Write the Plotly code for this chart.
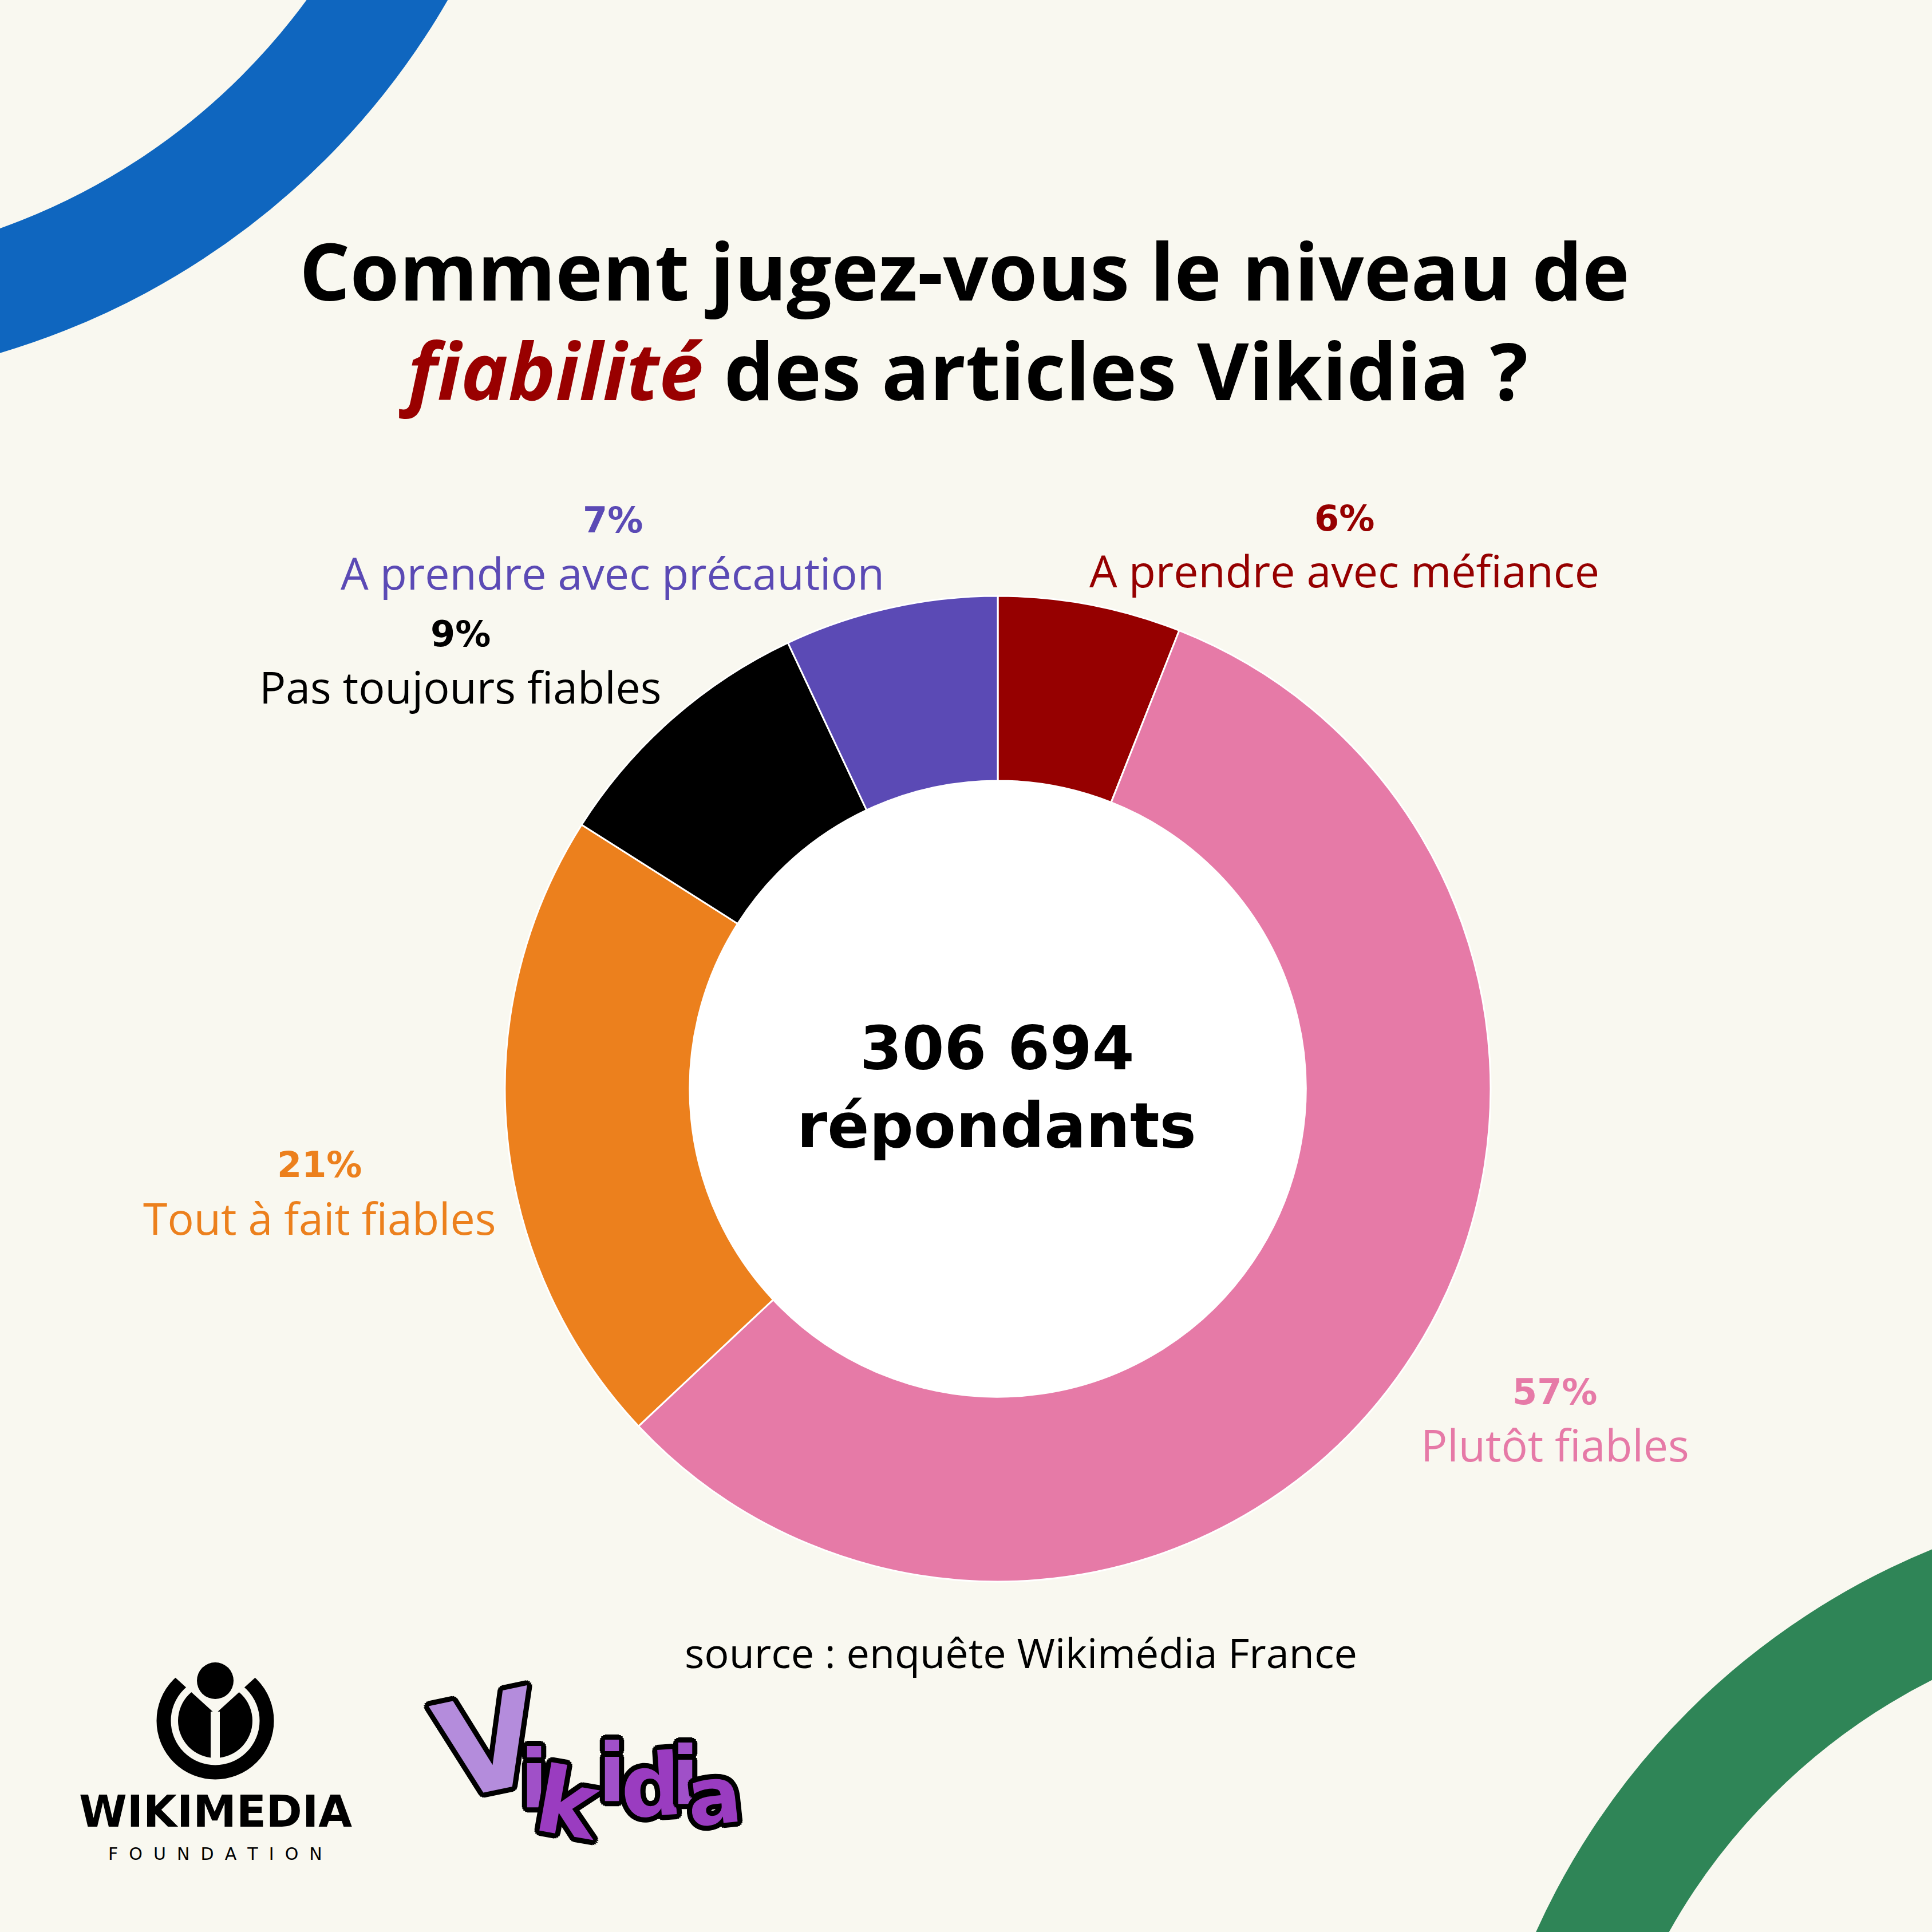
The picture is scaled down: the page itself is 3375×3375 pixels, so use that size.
import math
import plotly.graph_objects as go

W = H = 3375
BG = "#F9F8F0"
FONT = "Open Sans, sans-serif"
HEAVY = "DejaVu Sans, sans-serif"

# ---- data ----
categories = ["A prendre avec méfiance", "Plutôt fiables", "Tout à fait fiables",
              "Pas toujours fiables", "A prendre avec précaution"]
values = [6, 57, 21, 9, 7]
colors = ["#960000", "#E67AA7", "#EC801D", "#000000", "#5B4AB5"]
respondents = "306 694"
respondents_label = "répondants"
title_line1 = "Comment jugez-vous le niveau de"
title_word = "fiabilité"
title_rest = " des articles Vikidia ?"
source = "source : enquête Wikimédia France"

# label anchor positions in pixels (layout only): percent line centre
label_pos = [(2348, 905), (2716, 2431), (558, 2035), (804, 1107), (1070, 909)]


def X(px):
    return px / W


def Y(py):
    return 1 - py / H


def circle(cx, cy, r, **kw):
    return dict(type="circle", xref="paper", yref="paper",
                x0=X(cx - r), x1=X(cx + r), y0=Y(cy + r), y1=Y(cy - r), **kw)


def poly(pts, color):
    d = "M " + " L ".join(f"{X(x):.5f},{Y(y):.5f}" for x, y in pts) + " Z"
    return dict(type="path", xref="paper", yref="paper", path=d,
                fillcolor=color, line=dict(width=0), layer="above")


cx, cy, R = 1743, 1902, 861
hole = 0.625

fig = go.Figure()
fig.add_trace(go.Pie(
    labels=categories, values=values, sort=False, direction="clockwise",
    rotation=0, hole=hole, textinfo="none", hoverinfo="label+percent",
    marker=dict(colors=colors, line=dict(color="white", width=3)),
    domain=dict(x=[X(cx - R), X(cx + R)], y=[Y(cy + R), Y(cy - R)]),
    showlegend=False,
))

shapes = []
# decorative arcs
shapes.append(circle(-380, -670, 1238, line=dict(color="#0F66BF", width=207), layer="below"))
shapes.append(circle(3866, 3907, 1193, line=dict(color="#2F8557", width=208), layer="below"))
# white centre of donut
shapes.append(circle(cx, cy, R * hole + 2, fillcolor="white", line=dict(width=0), layer="below"))

# Wikimedia symbol
wx, wy = 376, 3006
shapes.append(circle(wx, wy, 90, line=dict(color="black", width=25), layer="above"))
shapes.append(circle(wx, wy, 65, fillcolor="black", line=dict(width=0), layer="above"))
shapes.append(poly([(wx, 2994), (wx - 165, 2994 - 150), (wx + 165, 2994 - 150)], BG))
shapes.append(poly([(wx - 8, 2990), (wx + 8, 2990), (wx + 8, 3076), (wx - 8, 3076)], BG))
shapes.append(circle(wx, 2936, 32, fillcolor="black", line=dict(width=0), layer="above"))

ann = []


def text(x, y, s, size, color="black", bold=False, **kw):
    f = dict(family=kw.pop("family", FONT), size=size, color=color)
    if "shadow" in kw:
        f["shadow"] = kw.pop("shadow")
    ann.append(dict(x=X(x), y=Y(y), xref="paper", yref="paper", showarrow=False,
                    text=f"<b>{s}</b>" if bold else s, font=f,
                    xanchor="center", yanchor="middle", **kw))


# title
text(1684, 471, title_line1, 139, bold=True)
text(1683, 645, f"<i><span style='color:#990000'>{title_word}</span></i>{title_rest}", 139, bold=True)

# slice labels
for cat, v, col, (lx, ly) in zip(categories, values, colors, label_pos):
    text(lx, ly, f"{v}%", 62, col, bold=True, family=HEAVY)
    text(lx, ly + 92, cat, 77, col)

# centre
text(1741, 1831, respondents, 106, bold=True, family=HEAVY)
text(1741, 1966, respondents_label, 108, bold=True, family=HEAVY)

# source
text(1783, 2886, source, 72)

# Wikimedia text
text(376, 3164, "WIKIMEDIA", 76, bold=True, family=HEAVY)
text(376, 3238, "  ".join("FOUNDATION"), 30, family=HEAVY)

# Vikidia logo
offs = []
for k in range(16):
    a = 2 * math.pi * k / 16
    offs.append(f"{9*math.cos(a):.1f}px {9*math.sin(a):.1f}px 0 #000")
sh = ", ".join(offs)
letters = [("V", 853, 3048, 230, "#B48CDC", -12),
           ("i", 933, 3108, 140, "#A050C8", 0),
           ("k", 993, 3150, 160, "#9A3CC0", 10),
           ("i", 1069, 3097, 140, "#A050C8", 0),
           ("d", 1137, 3120, 150, "#9A3CC0", -4),
           ("i", 1197, 3102, 140, "#A050C8", 0),
           ("a", 1247, 3137, 140, "#9A3CC0", -6)]
for ch, lx, ly, sz, col, ang in letters:
    text(lx, ly, ch, sz, col, bold=True, family=HEAVY, shadow=sh, textangle=ang)

fig.update_layout(
    width=W, height=H, margin=dict(l=0, r=0, t=0, b=0),
    paper_bgcolor=BG, plot_bgcolor=BG,
    shapes=shapes, annotations=ann,
)
fig.write_html("out.html", config={"displayModeBar": False},
               post_script="document.body.style.margin='0';")
